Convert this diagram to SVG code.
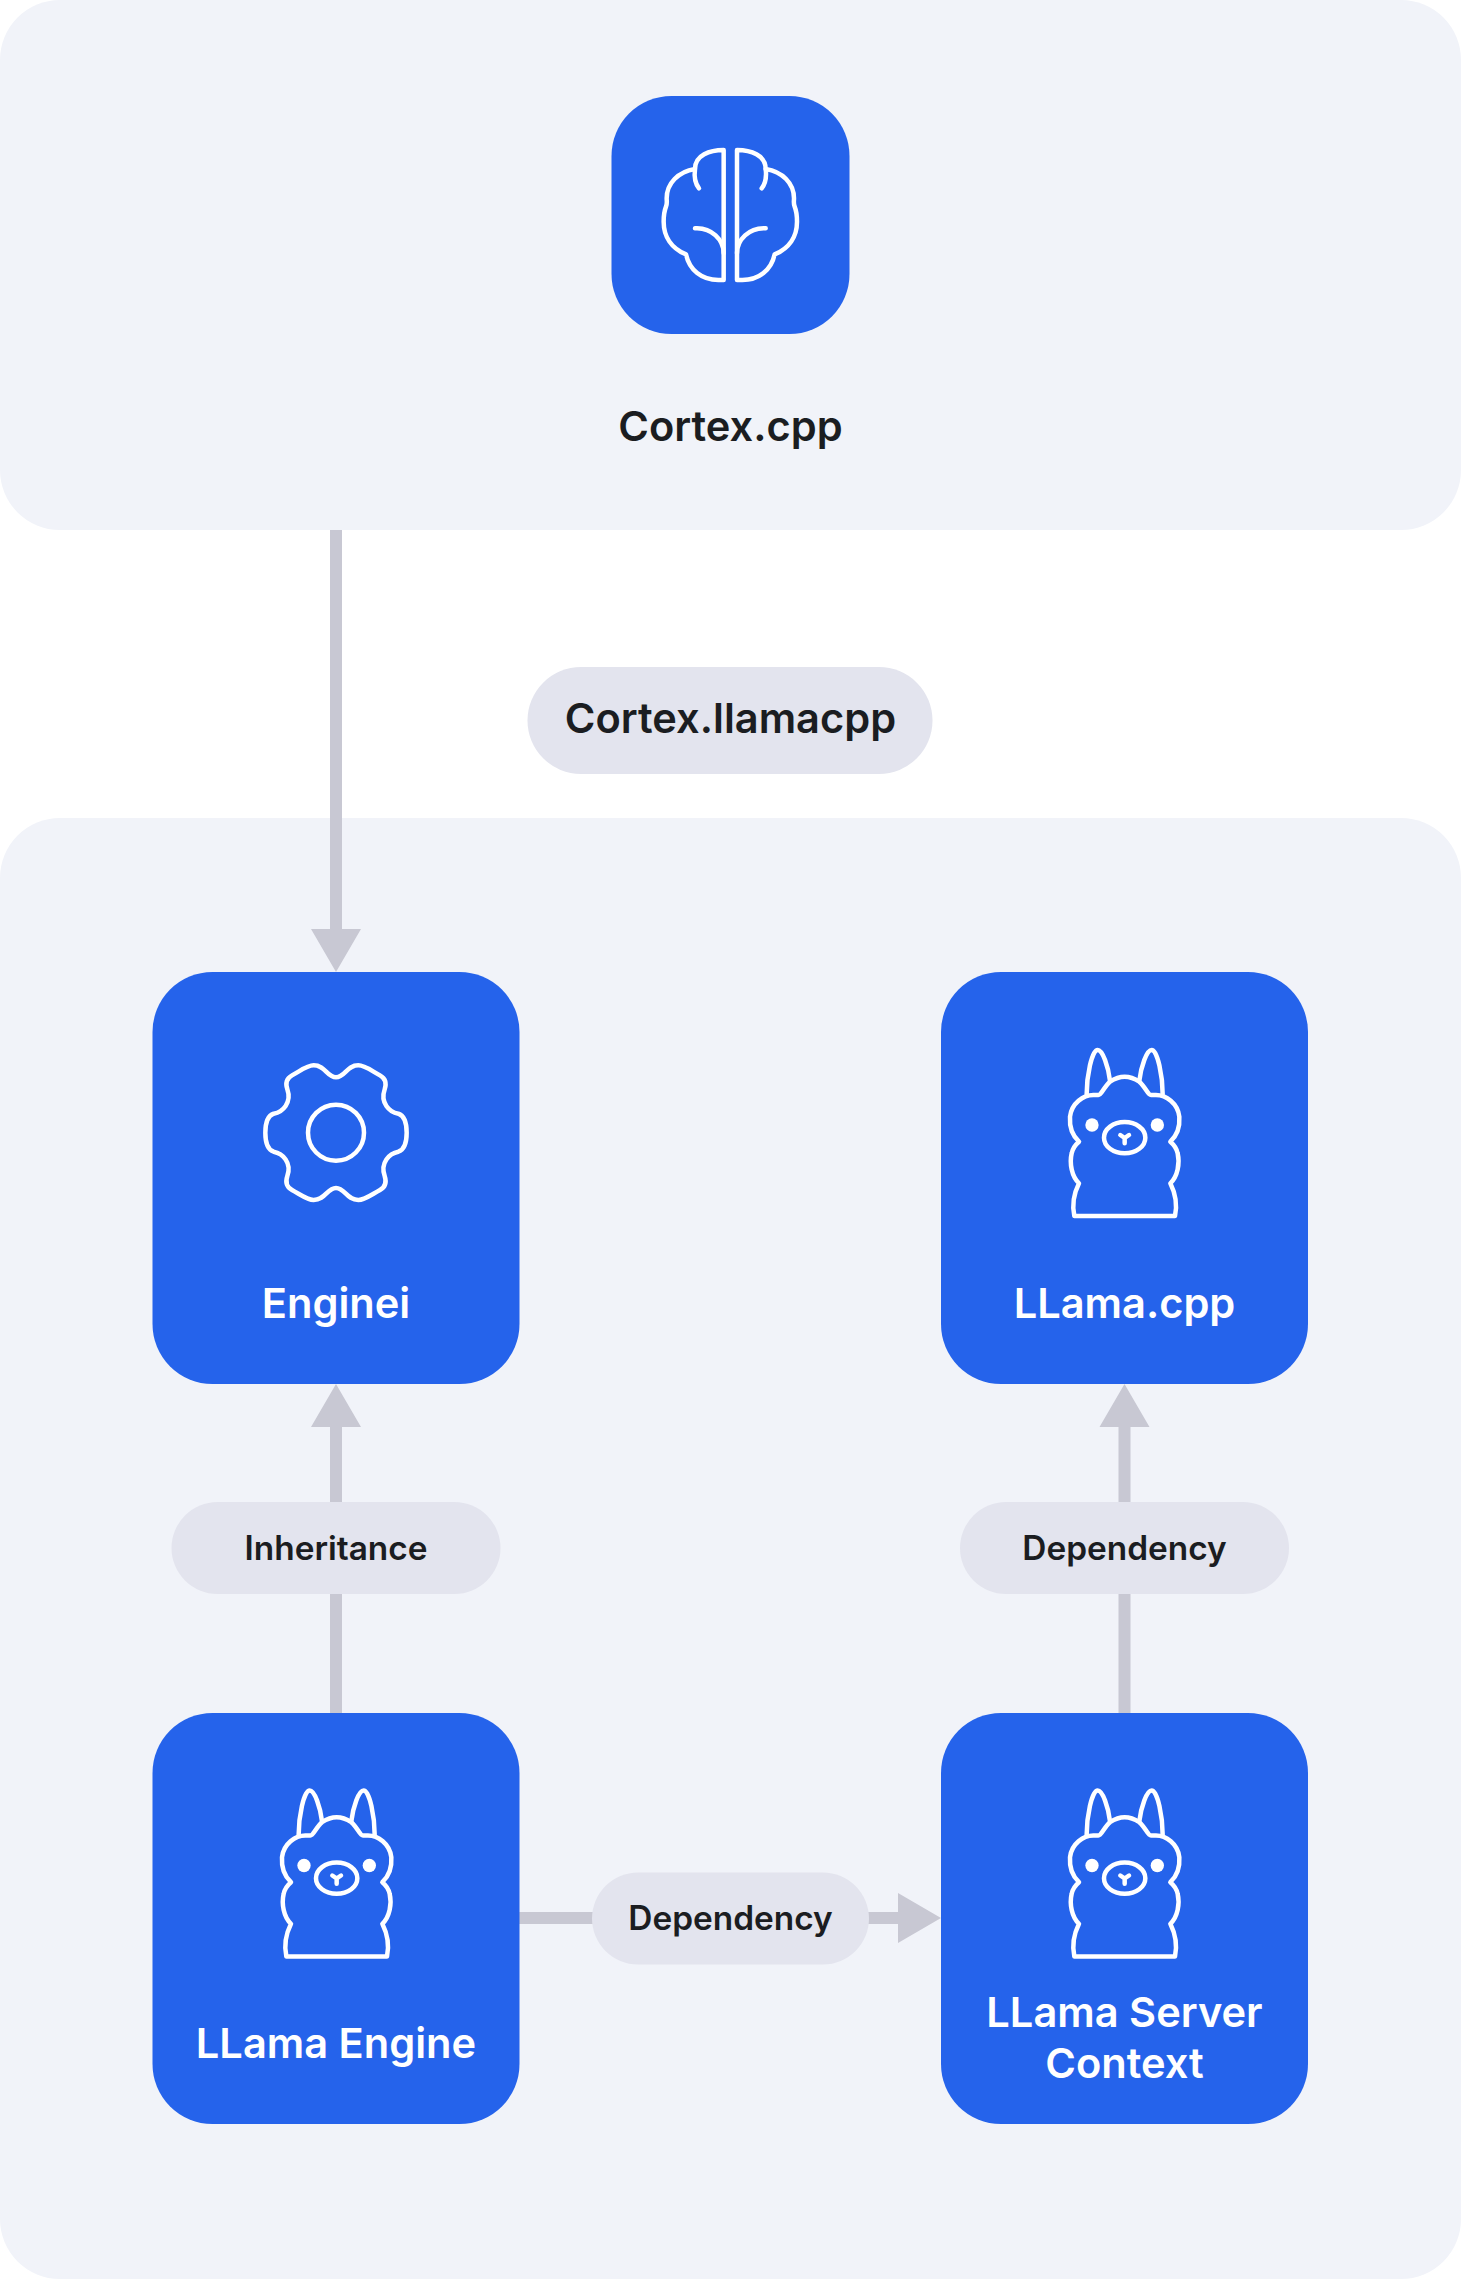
<svg xmlns="http://www.w3.org/2000/svg" xmlns:xlink="http://www.w3.org/1999/xlink" width="1461" height="2279" viewBox="0 0 1461 2279">
<style>
.panel{fill:#F1F3F9}
.box{fill:#2563EB}
.pill{fill:#E3E4EE}
.conn{fill:#C8C8D3}
.ico{fill:none;stroke:#fff;stroke-width:13.5;stroke-linecap:round;stroke-linejoin:round}
.dot{fill:#fff}
text{font-family:Inter,"Liberation Sans",sans-serif;font-weight:600;text-anchor:middle}
.dark{fill:#1B1D21}
.light{fill:#fff}
.t42{font-size:41.6px}
.t33{font-size:33.4px}
</style>
<defs>
<g id="llama">
<path class="ico" d="M133 588L435 588C441 560 441 530 421 490C443 470 450 430 443 400C440 385 433 375 421 365C443 345 450 320 448 290C443 250 408 225 378 225L363 225C353 225 346 200 328 185C313 175 298 170 284 170C270 170 255 175 240 185C222 200 215 225 205 225L190 225C160 225 125 250 120 290C118 320 125 345 147 365C135 375 128 385 125 400C118 430 125 470 147 490C127 530 127 560 133 588Z"/>
<path class="ico" d="M170 222C170 170 185 90 203 90C218 90 235 140 240 182"/>
<path class="ico" d="M398 222C398 170 383 90 365 90C350 90 333 140 328 182"/>
<circle class="dot" cx="186" cy="315" r="20"/>
<circle class="dot" cx="382" cy="315" r="20"/>
<ellipse class="ico" cx="284" cy="353" rx="62" ry="47"/>
<path class="ico" d="M271 345L284 354L297 345M284 354L284 370"/>
</g>
<g id="brain-half">
<path class="ico" d="M431 240C390 240 345 255 345 297C295 305 260 340 260 385C260 395 262 400 258 410C252 425 251 440 251 455C251 500 275 535 318 553C328 600 365 630 415 630L431 630Z"/>
<path class="ico" d="M345 297C342 320 345 340 357 355"/>
<path class="ico" d="M345 475C395 472 431 510 431 550"/>
</g>
</defs>
<g id="panel-top"><rect class="panel" x="0" y="0" width="1461" height="530" rx="60"/></g>
<g id="panel-bottom"><rect class="panel" x="0" y="818" width="1461" height="1461" rx="60"/></g>
<g id="connectors">
<path class="conn" d="M330 530H342V929H361L336 972L311 929H330Z"/>
<path class="conn" d="M330 1713V1427H311L336 1384L361 1427H342V1713Z"/>
<path class="conn" d="M1118.5 1713V1427H1099.5L1124.5 1384L1149.5 1427H1130.5V1713Z"/>
<path class="conn" d="M519 1912H898V1893L941 1918L898 1943V1924H519Z"/>
</g>
<g id="label-cortex-llamacpp"><rect class="pill" x="527.5" y="667" width="405" height="107" rx="53.5"/><text class="dark t42" x="730.5" y="733">Cortex.llamacpp</text></g>
<g id="label-inheritance"><rect class="pill" x="171.5" y="1502" width="329" height="92" rx="46"/><text class="dark t33" x="336" y="1560">Inheritance</text></g>
<g id="label-dependency-v"><rect class="pill" x="960" y="1502" width="329" height="92" rx="46"/><text class="dark t33" x="1124.5" y="1560">Dependency</text></g>
<g id="label-dependency-h"><rect class="pill" x="592" y="1872.5" width="277" height="92" rx="46"/><text class="dark t33" x="730.5" y="1930">Dependency</text></g>
<g id="node-cortex-cpp">
<rect class="box" x="611.5" y="96" width="238" height="238" rx="60"/>
<g transform="translate(580 70) scale(.33333)"><use href="#brain-half"/><use href="#brain-half" transform="translate(902 0) scale(-1 1)"/></g>
<text class="dark t42" x="730.5" y="441">Cortex.cpp</text>
</g>
<g id="node-enginei">
<rect class="box" x="152.5" y="972" width="367" height="412" rx="60"/>
<g transform="translate(336 1132.7) scale(.33333)">
<path class="ico" d="M0 -166C27 -166 32 -202 67 -202C85 -202 100 -190 132 -172C150 -162 152 -148 146 -130C132 -90 160 -62 187 -57C207 -50 212 -30 212 0C212 30 207 50 187 57C160 62 132 90 146 130C152 148 150 162 132 172C100 190 85 202 67 202C32 202 27 166 0 166C-27 166 -32 202 -67 202C-85 202 -100 190 -132 172C-150 162 -152 148 -146 130C-132 90 -160 62 -187 57C-207 50 -212 30 -212 0C-212 -30 -207 -50 -187 -57C-160 -62 -132 -90 -146 -130C-152 -148 -150 -162 -132 -172C-100 -190 -85 -202 -67 -202C-32 -202 -27 -166 0 -166Z"/>
<circle class="ico" cx="0" cy="0" r="84"/>
</g>
<text class="light t42" x="336" y="1318">Enginei</text>
</g>
<g id="node-llama-cpp">
<rect class="box" x="941" y="972" width="367" height="412" rx="60"/>
<g transform="translate(1030 1020) scale(.33333)"><use href="#llama"/></g>
<text class="light t42" x="1124.5" y="1318">LLama.cpp</text>
</g>
<g id="node-llama-engine">
<rect class="box" x="152.5" y="1713" width="367" height="411" rx="60"/>
<g transform="translate(242 1760.5) scale(.33333)"><use href="#llama"/></g>
<text class="light t42" x="336" y="2058">LLama Engine</text>
</g>
<g id="node-llama-server-context">
<rect class="box" x="941" y="1713" width="367" height="411" rx="60"/>
<g transform="translate(1030 1760.5) scale(.33333)"><use href="#llama"/></g>
<text class="light t42" x="1124.5" y="2026.5">LLama Server</text>
<text class="light t42" x="1124.5" y="2077.5">Context</text>
</g>
</svg>
